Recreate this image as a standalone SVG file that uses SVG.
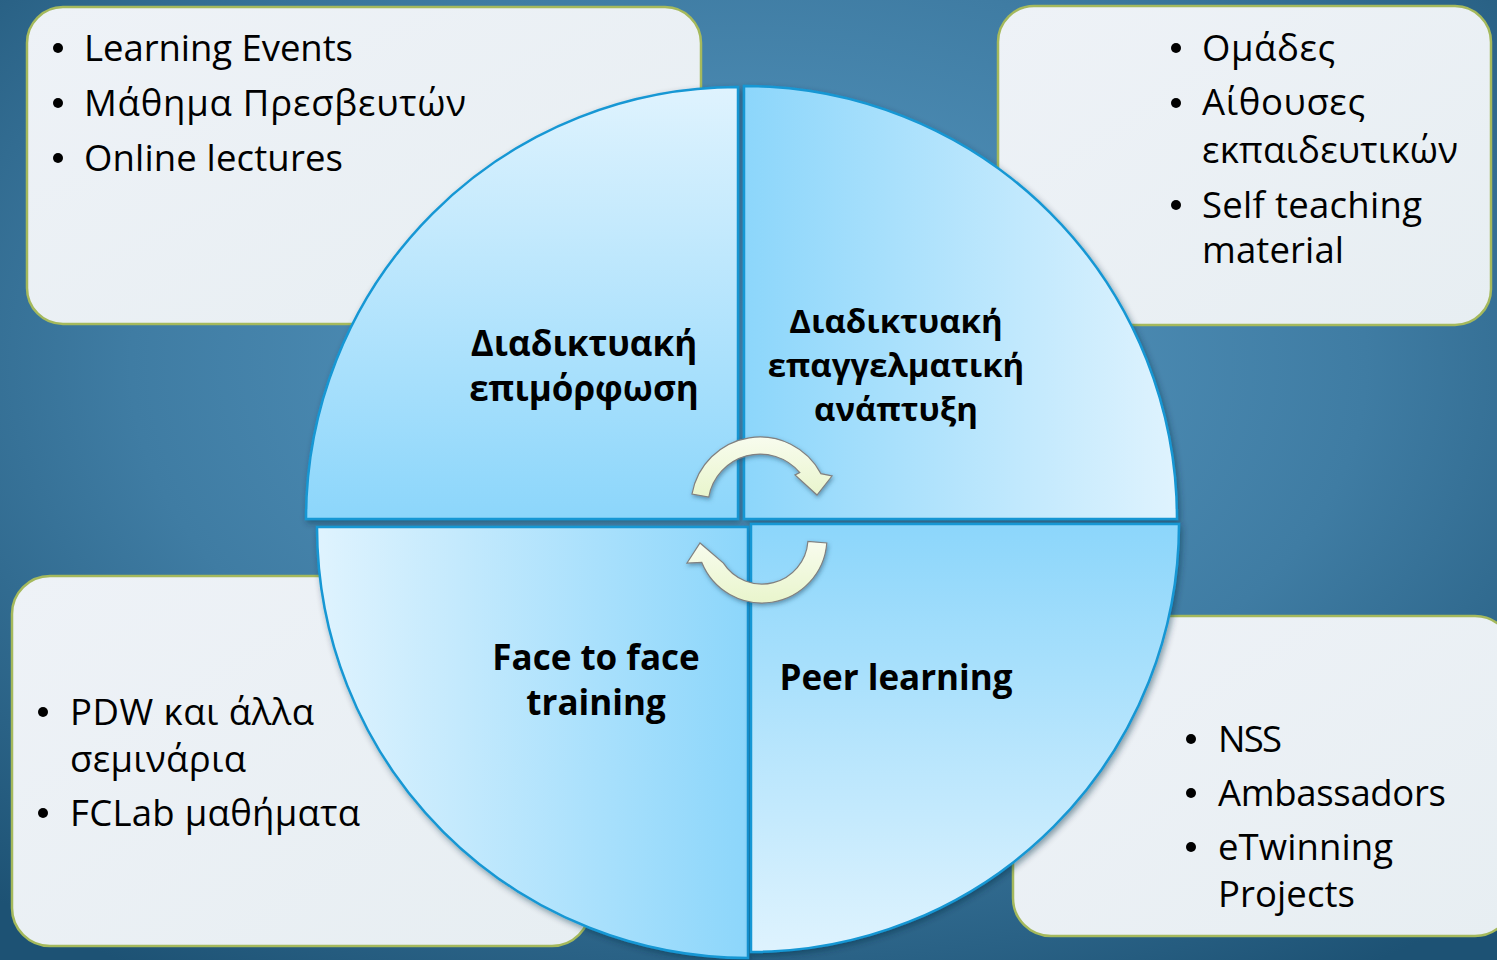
<svg xmlns="http://www.w3.org/2000/svg" width="1497" height="960" viewBox="0 0 1497 960">
<defs>
<radialGradient id="bg" cx="50%" cy="38%" r="75%">
<stop offset="0" stop-color="#5a9cc5"/>
<stop offset="0.55" stop-color="#3f7ca3"/>
<stop offset="1" stop-color="#1d5274"/>
</radialGradient>
<linearGradient id="boxg" x1="0" y1="0" x2="1" y2="1">
<stop offset="0" stop-color="#eef2f7"/>
<stop offset="1" stop-color="#e7eef2"/>
</linearGradient>
<linearGradient id="gTL" gradientUnits="userSpaceOnUse" x1="0" y1="87" x2="0" y2="519">
<stop offset="0" stop-color="#dff3fe"/>
<stop offset="1" stop-color="#8cd6fb"/>
</linearGradient>
<linearGradient id="gTR" gradientUnits="userSpaceOnUse" x1="744" y1="0" x2="1177" y2="0">
<stop offset="0" stop-color="#8cd6fb"/>
<stop offset="1" stop-color="#dff3fe"/>
</linearGradient>
<linearGradient id="gBL" gradientUnits="userSpaceOnUse" x1="317" y1="0" x2="748" y2="0">
<stop offset="0" stop-color="#dff3fe"/>
<stop offset="1" stop-color="#8cd6fb"/>
</linearGradient>
<linearGradient id="gBR" gradientUnits="userSpaceOnUse" x1="0" y1="524" x2="0" y2="955">
<stop offset="0" stop-color="#8cd6fb"/>
<stop offset="1" stop-color="#dff3fe"/>
</linearGradient>
<linearGradient id="arrg" x1="0" y1="0" x2="0" y2="1">
<stop offset="0" stop-color="#f8fcee"/>
<stop offset="1" stop-color="#e9f5cc"/>
</linearGradient>
<filter id="sh" x="-10%" y="-10%" width="120%" height="120%">
<feDropShadow dx="2" dy="3" stdDeviation="3" flood-color="#0a2a40" flood-opacity="0.45"/>
</filter>
<filter id="ash" x="-20%" y="-20%" width="140%" height="140%">
<feDropShadow dx="1" dy="2" stdDeviation="2" flood-color="#1b4a66" flood-opacity="0.5"/>
</filter>
</defs>
<style>
.box{fill:url(#boxg);stroke:#a5b95c;stroke-width:2.5}
.q{stroke:#1597d4;stroke-width:2.5;filter:url(#sh)}
.t{font-family:"Open Sans","Noto Sans","DejaVu Sans",sans-serif;font-size:36.5px;fill:#000}
.b{font-family:"Open Sans","Noto Sans","DejaVu Sans",sans-serif;font-size:35px;font-weight:bold;fill:#000;text-anchor:middle}
.s{font-size:33px}
.dot{fill:#000}
.arr{fill:url(#arrg);stroke:#808080;stroke-width:1.2;filter:url(#ash)}
</style>
<rect width="1497" height="960" fill="url(#bg)"/>

<g id="box-tl">
<rect class="box" x="27" y="7" width="674" height="317" rx="36"/>
<circle class="dot" cx="58" cy="48" r="5"/>
<text class="t" x="84" y="61" textLength="269">Learning Events</text>
<circle class="dot" cx="58" cy="103" r="5"/>
<text class="t" x="84" y="116" textLength="382">Μάθημα Πρεσβευτών</text>
<circle class="dot" cx="58" cy="158" r="5"/>
<text class="t" x="84" y="171" textLength="259">Online lectures</text>
</g>

<g id="box-tr">
<rect class="box" x="998" y="6" width="493" height="319" rx="36"/>
<circle class="dot" cx="1176" cy="48" r="5"/>
<text class="t" x="1202" y="61" textLength="133">Ομάδες</text>
<circle class="dot" cx="1176" cy="103" r="5"/>
<text class="t" x="1202" y="115" textLength="163">Αίθουσες</text>
<text class="t" x="1202" y="163" textLength="256">εκπαιδευτικών</text>
<circle class="dot" cx="1176" cy="205" r="5"/>
<text class="t" x="1202" y="218" textLength="220">Self teaching</text>
<text class="t" x="1202" y="263" textLength="142">material</text>
</g>

<g id="box-bl">
<rect class="box" x="12" y="576" width="578" height="370" rx="38"/>
<circle class="dot" cx="43" cy="712" r="5"/>
<text class="t" x="70" y="725" textLength="244">PDW και άλλα</text>
<text class="t" x="70" y="772" textLength="176">σεμινάρια</text>
<circle class="dot" cx="43" cy="813" r="5"/>
<text class="t" x="70" y="826" textLength="290">FCLab μαθήματα</text>
</g>

<g id="box-br">
<rect class="box" x="1013" y="616" width="500" height="320" rx="38"/>
<circle class="dot" cx="1191" cy="739" r="5"/>
<text class="t" x="1218" y="752" textLength="64">NSS</text>
<circle class="dot" cx="1191" cy="793" r="5"/>
<text class="t" x="1218" y="806" textLength="228">Ambassadors</text>
<circle class="dot" cx="1191" cy="847" r="5"/>
<text class="t" x="1218" y="860" textLength="175">eTwinning</text>
<text class="t" x="1218" y="907" textLength="137">Projects</text>
</g>

<g id="q-tl">
<path class="q" fill="url(#gTL)" d="M738 519 L306 519 A432 432 0 0 1 738 87 Z"/>
<text class="b" x="584" y="356">Διαδικτυακή</text>
<text class="b" x="584" y="401">επιμόρφωση</text>
</g>
<g id="q-tr">
<path class="q" fill="url(#gTR)" d="M744 519 L744 86 A433 433 0 0 1 1177 519 Z"/>
<text class="b s" x="896" y="333">Διαδικτυακή</text>
<text class="b s" x="896" y="377">επαγγελματική</text>
<text class="b s" x="896" y="421">ανάπτυξη</text>
</g>
<g id="q-bl">
<path class="q" fill="url(#gBL)" d="M748 527 L748 958 A431 431 0 0 1 317 527 Z"/>
<text class="b" x="596" y="670">Face to face</text>
<text class="b" x="596" y="715">training</text>
</g>
<g id="q-br">
<path class="q" fill="url(#gBR)" d="M751 524 L1179 524 A428 428 0 0 1 751 952 Z"/>
<text class="b" x="896" y="690">Peer learning</text>
</g>

<g id="connectors">
<path class="arr" d="M692 494 A69 69 0 0 1 820.9 473.6 L832 476 L817 495 L795 475 L799.8 472.6 A52 52 0 0 0 708.8 497 Z"/>
<path class="arr" d="M826.8 543 A65 65 0 0 1 701.7 562.3 L687 563 L700 543 L723.4 563.1 A46 46 0 0 0 807.9 541.5 Z"/>
</g>
</svg>
